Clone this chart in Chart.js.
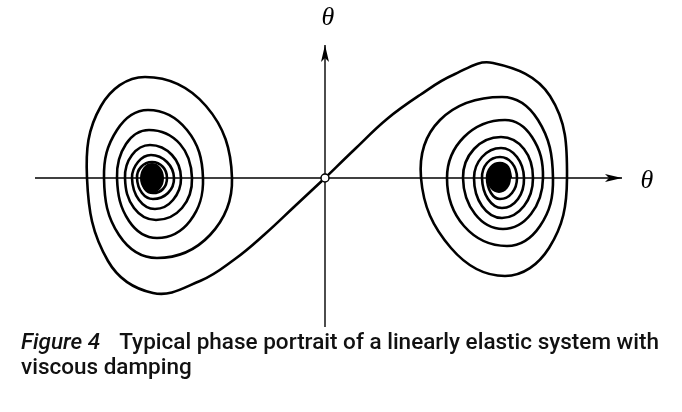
<!DOCTYPE html>
<html>
<head>
<meta charset="utf-8">
<script src="https://cdn.jsdelivr.net/npm/chart.js@4/dist/chart.umd.min.js"></script>
<style>
  html, body { margin: 0; padding: 0; background: #fff; }
  #wrap { position: relative; width: 682px; height: 412px; }
  #caption {
    position: absolute; left: 21px; top: 329px;
    font-family: Roboto, "Liberation Sans", Arial, sans-serif;
    font-weight: 500;
    font-size: 22.5px; line-height: 25px; color: #111;
    white-space: nowrap;
  }
  #caption i { margin-right: 19px; }
</style>
</head>
<body>
<div id="wrap">
  <canvas id="chart" width="682" height="412"></canvas>
  <div id="caption"><i>Figure 4</i>Typical phase portrait of a linearly elastic system with<br>viscous damping</div>
</div>
<script>
// phase plane: x = θ, y = dθ/dt (arbitrary units, saddle at origin, foci near ±1.75)
// each spiral: separatrix out of the saddle, then half-turns foot -> 45° -> extreme -> 45° -> foot
const leftSpiral = [
  [0, 0], [-0.30, -0.28], [-0.60, -0.56], [-0.90, -0.81], [-1.25, -1.03], [-1.72, -1.15],
  [-2.17, -0.83], [-2.38, 0],
  [-2.24, 0.72], [-1.80, 1.01], [-1.19, 0.72], [-0.93, 0],
  [-1.15, -0.57], [-1.68, -0.80], [-2.06, -0.57], [-2.21, 0],
  [-2.08, 0.48], [-1.77, 0.68], [-1.38, 0.48], [-1.22, 0],
  [-1.35, -0.43], [-1.68, -0.60], [-1.96, -0.43], [-2.08, 0],
  [-1.99, 0.34], [-1.76, 0.48], [-1.45, 0.34], [-1.33, 0],
  [-1.43, -0.30], [-1.69, -0.42], [-1.91, -0.30], [-2.00, 0],
  [-1.93, 0.23], [-1.75, 0.33], [-1.53, 0.23], [-1.44, 0],
  [-1.52, -0.22], [-1.70, -0.31], [-1.86, -0.22], [-1.93, 0],
  [-1.87, 0.16], [-1.74, 0.23], [-1.58, 0.16], [-1.51, 0],
  [-1.57, -0.15], [-1.72, -0.21], [-1.83, -0.15], [-1.88, 0],
  [-1.84, 0.11], [-1.73, 0.16], [-1.62, 0.11], [-1.58, 0],
  [-1.62, -0.11], [-1.72, -0.15], [-1.80, -0.11], [-1.83, 0]
];

const rightSpiral = [
  [0, 0], [0.30, 0.29], [0.62, 0.59], [0.95, 0.83], [1.28, 1.03], [1.68, 1.15],
  [2.25, 0.82], [2.42, 0],
  [2.24, -0.70], [1.80, -0.98], [1.26, -0.70], [0.96, 0],
  [1.15, 0.58], [1.77, 0.81], [2.13, 0.58], [2.28, 0],
  [2.15, -0.48], [1.82, -0.68], [1.39, -0.48], [1.22, 0],
  [1.39, 0.41], [1.80, 0.58], [2.07, 0.41], [2.18, 0],
  [2.06, -0.36], [1.78, -0.51], [1.50, -0.36], [1.38, 0],
  [1.49, 0.29], [1.76, 0.41], [1.99, 0.29], [2.08, 0],
  [1.99, -0.28], [1.77, -0.40], [1.57, -0.28], [1.49, 0],
  [1.57, 0.21], [1.76, 0.30], [1.92, 0.21], [1.99, 0],
  [1.93, -0.21], [1.77, -0.30], [1.63, -0.21], [1.57, 0],
  [1.62, 0.15], [1.75, 0.21], [1.87, 0.15], [1.92, 0],
  [1.87, -0.15], [1.75, -0.21], [1.66, -0.15], [1.62, 0],
  [1.66, 0.11], [1.75, 0.15], [1.83, 0.11], [1.86, 0]
];

const foci = [[-1.73, 0], [1.74, 0]];
const saddle = [[0, 0]];
const xAxisEnds = [[-2.90, 0], [2.97, 0]];
const yAxisEnds = [[0, -1.49], [0, 1.33]];
const axisLabels = ['θ', 'θ'];

const pts = a => a.map(p => ({ x: p[0], y: p[1] }));

// solid ellipse used for the tightly wound centre of each focus
function blob() {
  const c = document.createElement('canvas');
  c.width = 26; c.height = 32;
  const g = c.getContext('2d');
  g.fillStyle = '#000';
  g.beginPath();
  g.ellipse(13, 16, 12, 15, 0, 0, Math.PI * 2);
  g.fill();
  return c;
}

const arrows = {
  id: 'arrows',
  afterDatasetsDraw(chart) {
    const { ctx, scales: { x, y } } = chart;
    ctx.save();
    ctx.fillStyle = '#000';
    // x arrow
    let tx = x.getPixelForValue(xAxisEnds[1][0]), ty = y.getPixelForValue(0);
    ctx.beginPath();
    ctx.moveTo(tx, ty);
    ctx.lineTo(tx - 17, ty - 4);
    ctx.lineTo(tx - 13, ty);
    ctx.lineTo(tx - 17, ty + 4);
    ctx.closePath();
    ctx.fill();
    // y arrow
    tx = x.getPixelForValue(0); ty = y.getPixelForValue(yAxisEnds[1][1]);
    ctx.beginPath();
    ctx.moveTo(tx, ty);
    ctx.lineTo(tx - 4, ty + 17);
    ctx.lineTo(tx, ty + 13);
    ctx.lineTo(tx + 4, ty + 17);
    ctx.closePath();
    ctx.fill();
    // labels
    ctx.font = 'italic 26px "Liberation Serif", "DejaVu Serif", serif';
    ctx.textAlign = 'center';
    ctx.textBaseline = 'middle';
    ctx.fillText(axisLabels[0], x.getPixelForValue(3.22), y.getPixelForValue(-0.03));
    ctx.fillText(axisLabels[1], x.getPixelForValue(0.03), y.getPixelForValue(1.60));
    ctx.restore();
  }
};

const line = (data, w) => ({
  data: pts(data), showLine: true, borderColor: '#000', borderWidth: w,
  pointRadius: 0, tension: 0.4, fill: false
});

new Chart(document.getElementById('chart'), {
  type: 'scatter',
  data: {
    datasets: [
      {
        data: pts(saddle), pointRadius: 4, pointBackgroundColor: '#fff',
        pointBorderColor: '#000', pointBorderWidth: 1.5, order: 0
      },
      { data: pts(foci), pointStyle: blob(), order: 1 },
      Object.assign(line(leftSpiral, 2.6), { order: 2 }),
      Object.assign(line(rightSpiral, 2.6), { order: 2 }),
      Object.assign(line(xAxisEnds, 1.4), { tension: 0, order: 3 }),
      Object.assign(line(yAxisEnds, 1.4), { tension: 0, order: 3 })
    ]
  },
  options: {
    responsive: false,
    animation: false,
    devicePixelRatio: 1,
    layout: { padding: 0, autoPadding: false },
    plugins: { legend: { display: false }, tooltip: { enabled: false } },
    scales: {
      x: { type: 'linear', display: false, min: -3.25, max: 3.57 },
      y: { type: 'linear', display: false, min: -2.34, max: 1.78 }
    }
  },
  plugins: [arrows]
});
</script>
</body>
</html>
